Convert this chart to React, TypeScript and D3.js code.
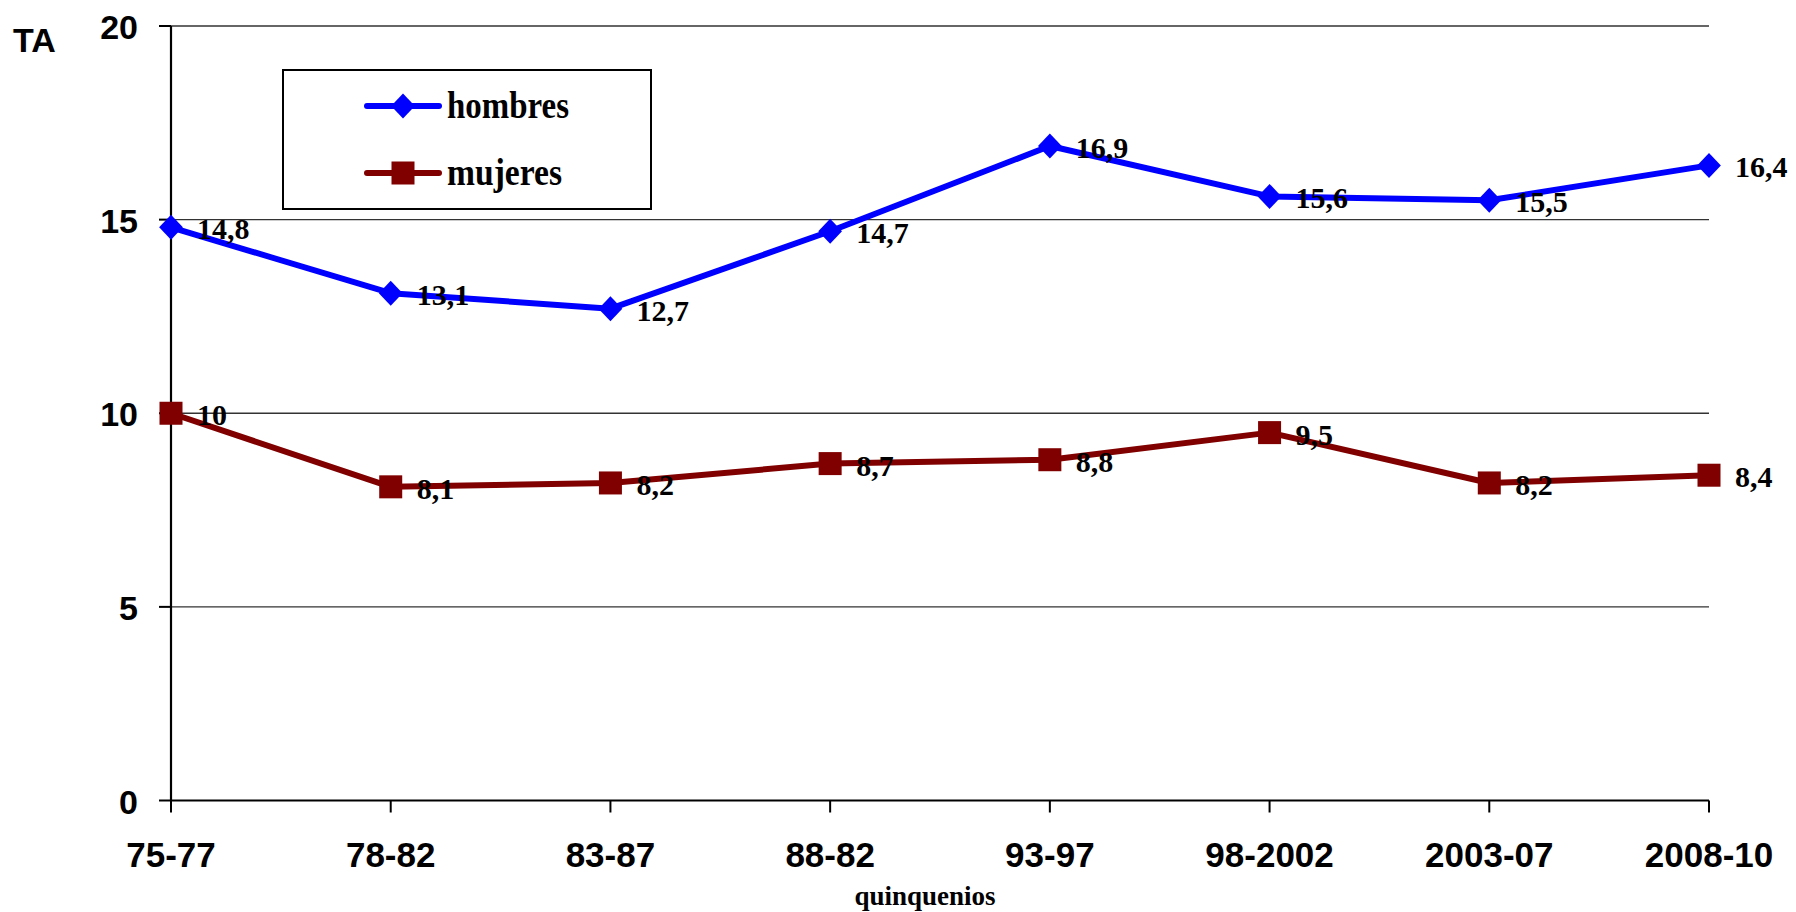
import React from "react";
import * as d3 from "d3";

const categories = ["75-77", "78-82", "83-87", "88-82", "93-97", "98-2002", "2003-07", "2008-10"];
const hombres = [14.8, 13.1, 12.7, 14.7, 16.9, 15.6, 15.5, 16.4];
const mujeres = [10, 8.1, 8.2, 8.7, 8.8, 9.5, 8.2, 8.4];
const yTicks = [0, 5, 10, 15, 20];
const seriesNames = ["hombres", "mujeres"];
const seriesColors = ["#0000FF", "#800000"];
const yTitle = "TA";
const xTitle = "quinquenios";

const W = 1796;
const H = 912;
const X0 = 171;
const X1 = 1709;
const Y0 = 800.5;
const Y1 = 26;

const fmt = (v: number) => String(v).replace(".", ",");

export default function App() {
  const x = d3.scalePoint<string>().domain(categories).range([X0, X1]);
  const y = d3.scaleLinear().domain([0, 20]).range([Y0, Y1]);
  const line = d3
    .line<number>()
    .x((_, i) => x(categories[i]) as number)
    .y((d) => y(d));
  const sans = "'Liberation Sans', Arial, sans-serif";
  const serif = "'Liberation Serif', 'Times New Roman', serif";

  const diamond = (cx: number, cy: number, r: number) =>
    `M${cx},${cy - r}L${cx + r * 0.95},${cy}L${cx},${cy + r}L${cx - r * 0.95},${cy}Z`;

  const series = [hombres, mujeres];

  return (
    <svg
      width={W}
      height={H}
      style={{ position: "absolute", left: 0, top: 0, background: "#fff" }}
    >
      {yTicks
        .filter((t) => t > 0)
        .map((t) => (
          <line key={"g" + t} x1={X0} x2={X1} y1={y(t)} y2={y(t)} stroke="#333" strokeWidth={1.4} />
        ))}
      <line x1={X0} x2={X0} y1={Y1} y2={Y0} stroke="#000" strokeWidth={2.2} />
      <line x1={X0} x2={X1} y1={Y0} y2={Y0} stroke="#000" strokeWidth={2.2} />
      {yTicks.map((t) => (
        <g key={"yt" + t}>
          <line x1={159} x2={X0} y1={y(t)} y2={y(t)} stroke="#000" strokeWidth={2} />
          <text
            x={138}
            y={y(t) + 13}
            textAnchor="end"
            fontFamily={sans}
            fontWeight="bold"
            fontSize={34}
          >
            {t}
          </text>
        </g>
      ))}
      {categories.map((c) => (
        <g key={"xt" + c}>
          <line x1={x(c)} x2={x(c)} y1={Y0} y2={Y0 + 12} stroke="#000" strokeWidth={2} />
          <text
            x={x(c)}
            y={867}
            textAnchor="middle"
            fontFamily={sans}
            fontWeight="bold"
            fontSize={35}
          >
            {c}
          </text>
        </g>
      ))}
      <text x={13} y={52} fontFamily={sans} fontWeight="bold" fontSize={34}>
        {yTitle}
      </text>
      <text x={925} y={905} textAnchor="middle" fontFamily={serif} fontWeight="bold" fontSize={27}>
        {xTitle}
      </text>

      {series.map((s, si) => (
        <g key={"s" + si}>
          <path d={line(s) || ""} fill="none" stroke={seriesColors[si]} strokeWidth={6} strokeLinejoin="round" />
          {s.map((v, i) => {
            const cx = x(categories[i]) as number;
            const cy = y(v);
            return si === 0 ? (
              <path key={i} d={diamond(cx, cy, 12.5)} fill={seriesColors[si]} />
            ) : (
              <rect key={i} x={cx - 11.5} y={cy - 11.5} width={23} height={23} fill={seriesColors[si]} />
            );
          })}
          {s.map((v, i) => (
            <text
              key={"l" + i}
              x={(x(categories[i]) as number) + 26}
              y={y(v) + 12}
              fontFamily={serif}
              fontWeight="bold"
              fontSize={30}
              fill="#000"
            >
              {fmt(v)}
            </text>
          ))}
        </g>
      ))}

      <rect x={283} y={70} width={368} height={139} fill="#fff" stroke="#000" strokeWidth={2} />
      {seriesNames.map((n, i) => {
        const ly = i === 0 ? 106 : 173;
        return (
          <g key={"lg" + n}>
            <line x1={367} x2={439} y1={ly} y2={ly} stroke={seriesColors[i]} strokeWidth={6} strokeLinecap="round" />
            {i === 0 ? (
              <path d={diamond(403, ly, 12.5)} fill={seriesColors[i]} />
            ) : (
              <rect x={391.5} y={ly - 11.5} width={23} height={23} fill={seriesColors[i]} />
            )}
            <text
              x={447}
              y={ly + 12}
              fontFamily={serif}
              fontWeight="bold"
              fontSize={37}
              textLength={i === 0 ? 122 : 115}
              lengthAdjust="spacingAndGlyphs"
            >
              {n}
            </text>
          </g>
        );
      })}
    </svg>
  );
}
